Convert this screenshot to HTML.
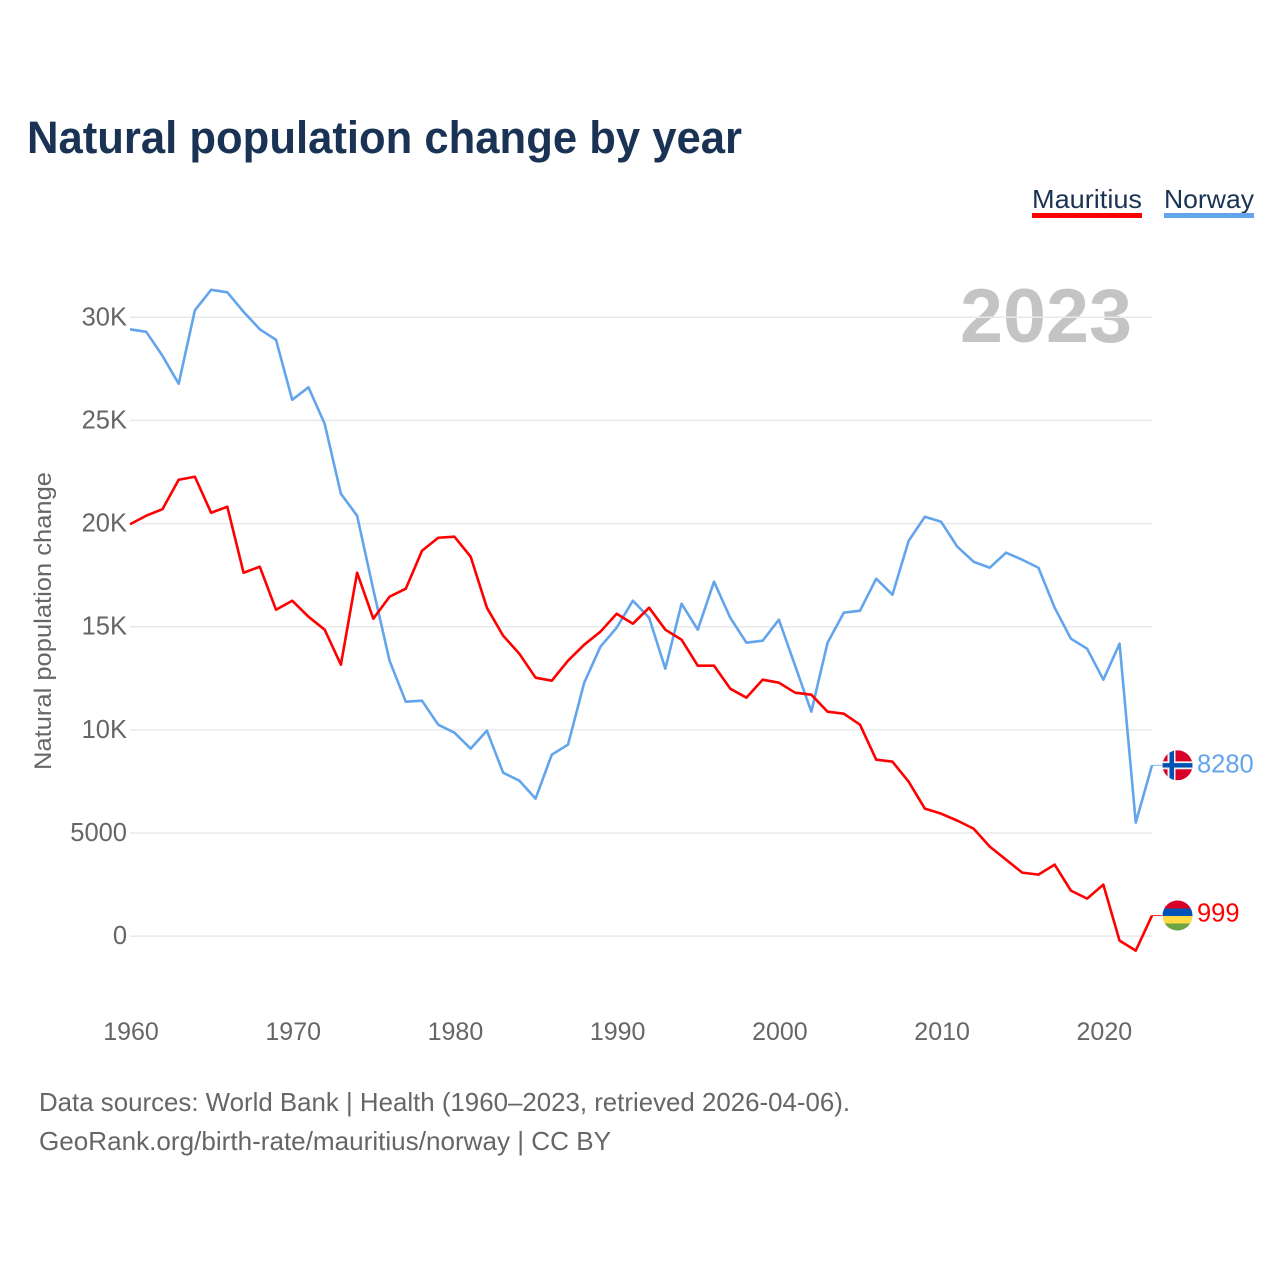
<!DOCTYPE html>
<html lang="en">
<head>
<meta charset="utf-8">
<title>Natural population change by year</title>
<style>
html,body{margin:0;padding:0;background:#fff;}
svg{display:block;font-family:"Liberation Sans","DejaVu Sans",sans-serif;}
</style>
</head>
<body>
<svg id="chart" width="1280" height="1280" viewBox="0 0 1280 1280" xmlns="http://www.w3.org/2000/svg">
  <defs>
    <clipPath id="flag-clip"><circle cx="0" cy="0" r="15"></circle></clipPath>
  </defs>
  <rect x="0" y="0" width="1280" height="1280" fill="#ffffff"></rect>
  <text x="27" y="153" font-size="45" font-weight="700" fill="#1a3354" textLength="715" lengthAdjust="spacingAndGlyphs">Natural population change by year</text>

  <g>
    <text x="1032" y="208" font-size="26" fill="#1a3354" textLength="110" lengthAdjust="spacingAndGlyphs">Mauritius</text>
    <rect x="1032" y="213" width="110" height="5" fill="#ff0000"></rect>
  </g>
  <g>
    <text x="1164" y="208" font-size="26" fill="#1a3354" textLength="90" lengthAdjust="spacingAndGlyphs">Norway</text>
    <rect x="1164" y="213" width="90" height="5" fill="#63a5ec"></rect>
  </g>

  <text x="960" y="342" font-size="76" font-weight="700" fill="#c4c4c4" textLength="172" lengthAdjust="spacingAndGlyphs">2023</text>

  <g id="grid"></g>
  <g id="y-axis"></g>
  <g id="x-axis"></g>
  <text transform="translate(51,621) rotate(-90)" text-anchor="middle" font-size="24" fill="#666666" textLength="298" lengthAdjust="spacingAndGlyphs">Natural population change</text>
  <g id="series"></g>
  <g id="end-markers"></g>

  <text x="39" y="1111" font-size="26" fill="#666666" textLength="811" lengthAdjust="spacingAndGlyphs">Data sources: World Bank | Health (1960–2023, retrieved 2026-04-06).</text>
  <text x="39" y="1150" font-size="26" fill="#666666" textLength="572" lengthAdjust="spacingAndGlyphs">GeoRank.org/birth-rate/mauritius/norway | CC BY</text>
</svg>
<script>
const firstYear = 1960;
const xTickYears = [1960, 1970, 1980, 1990, 2000, 2010, 2020];
const yTickValues = [0, 5000, 10000, 15000, 20000, 25000, 30000];
const yTickLabels = ["0", "5000", "10K", "15K", "20K", "25K", "30K"];
const norwayValues = [
  29418, 29297, 28134, 26777, 30339, 31333, 31211, 30266, 29418, 28909,
  26001, 26607, 24838, 21446, 20380, 16793, 13352, 11365, 11414, 10250,
  9863, 9087, 9960, 7924, 7536, 6664, 8796, 9281, 12286, 14031,
  14951, 16260, 15436, 12964, 16115, 14855, 17181, 15436, 14224, 14321,
  15339, 13110, 10880, 14224, 15678, 15775, 17326, 16551, 19168, 20331,
  20089, 18877, 18150, 17859, 18586, 18247, 17859, 15921, 14418, 13934,
  12431, 14176, 5501, 8280
];
const mauritiusValues = [
  19968, 20380, 20695, 22124, 22270, 20525, 20816, 17617, 17908, 15824,
  16260, 15485, 14855, 13158, 17617, 15388, 16454, 16842, 18683, 19313,
  19362, 18392, 15921, 14564, 13691, 12528, 12383, 13352, 14128, 14758,
  15630, 15145, 15921, 14855, 14370, 13110, 13110, 11995, 11559, 12431,
  12286, 11801, 11704, 10880, 10783, 10250, 8554, 8457, 7488, 6179,
  5937, 5598, 5210, 4338, 3708, 3078, 2981, 3465, 2205, 1817,
  2496, -218, -703, 999
];

const SVG_NS = "http://www.w3.org/2000/svg";
const gridLeft = 130, gridRight = 1152;
function xScale(year) { return 130 + (year - 1960) * (1152 - 130) / 63; }
function yScale(value) { return 936.1 - value * 618.8 / 30000; }
function make(tag, attrs, parent) {
  const el = document.createElementNS(SVG_NS, tag);
  for (const k in attrs) el.setAttribute(k, attrs[k]);
  parent.appendChild(el);
  return el;
}

const grid = document.getElementById("grid");
const yAxis = document.getElementById("y-axis");
const xAxis = document.getElementById("x-axis");
const seriesGroup = document.getElementById("series");
const endGroup = document.getElementById("end-markers");

yTickValues.forEach(function (v, i) {
  const line = make("line", {x1: gridLeft, x2: gridRight, y1: yScale(v), y2: yScale(v), stroke: "#e9e9e9", "stroke-width": 1.5}, grid);
  
  
  const label = make("text", {x: 127, y: yScale(v) + 8, "text-anchor": "end", "font-size": 25.5, fill: "#666666"}, yAxis);
  
  
  label.textContent = yTickLabels[i];
});

xTickYears.forEach(function (year) {
  const label = make("text", {x: xScale(year) + 1, y: 1040, "text-anchor": "middle", "font-size": 25, fill: "#666666"}, xAxis);
  
  
  label.textContent = String(year);
});

function pathFor(values) {
  return values.map(function (v, i) {
    return (i ? "L" : "M") + xScale(firstYear + i).toFixed(2) + " " + yScale(v).toFixed(2);
  }).join(" ");
}

const norwayLine = make("path", {d: pathFor(norwayValues), fill: "none", stroke: "#63a5ec", "stroke-width": 2.6, "stroke-linejoin": "round"}, seriesGroup);


const mauritiusLine = make("path", {d: pathFor(mauritiusValues), fill: "none", stroke: "#ff0000", "stroke-width": 2.6, "stroke-linejoin": "round"}, seriesGroup);



function connector(values, color) {
  const y = yScale(values[values.length - 1]);
  const line = make("line", {x1: gridRight, x2: 1162, y1: y, y2: y, stroke: color, "stroke-width": 1, opacity: 0.8}, endGroup);
  
  
}
connector(norwayValues, "#63a5ec");
connector(mauritiusValues, "#ff0000");

/* Norway flag */
const norwayY = yScale(norwayValues[norwayValues.length - 1]);
const norwayFlag = make("g", {transform: "translate(1177.5," + norwayY + ")", "clip-path": "url(#flag-clip)"}, endGroup);


make("rect", {x: -15, y: -15, width: 30, height: 30, fill: "#d80027"}, norwayFlag);
make("rect", {x: -10, y: -15, width: 8, height: 30, fill: "#f0f0f0"}, norwayFlag);
make("rect", {x: -15, y: -4, width: 30, height: 8, fill: "#f0f0f0"}, norwayFlag);
make("rect", {x: -8, y: -15, width: 4.5, height: 30, fill: "#0052b4"}, norwayFlag);
make("rect", {x: -15, y: -2.2, width: 30, height: 4.4, fill: "#0052b4"}, norwayFlag);

/* Mauritius flag */
const mauritiusY = yScale(mauritiusValues[mauritiusValues.length - 1]);
const mauritiusFlag = make("g", {transform: "translate(1177.5," + mauritiusY + ")", "clip-path": "url(#flag-clip)"}, endGroup);


make("rect", {x: -15, y: -15, width: 30, height: 8, fill: "#d80027"}, mauritiusFlag);
make("rect", {x: -15, y: -7, width: 30, height: 7.5, fill: "#0052b4"}, mauritiusFlag);
make("rect", {x: -15, y: 0.5, width: 30, height: 7.5, fill: "#ffda44"}, mauritiusFlag);
make("rect", {x: -15, y: 8, width: 30, height: 7, fill: "#6da544"}, mauritiusFlag);

const norwayEnd = make("text", {x: 1197, y: norwayY + 7, "font-size": 25.5, fill: "#63a5ec"}, endGroup);


norwayEnd.textContent = String(norwayValues[norwayValues.length - 1]);
const mauritiusEnd = make("text", {x: 1197, y: mauritiusY + 6, "font-size": 25.5, fill: "#ff0000"}, endGroup);


mauritiusEnd.textContent = String(mauritiusValues[mauritiusValues.length - 1]);
</script>
</body>
</html>
